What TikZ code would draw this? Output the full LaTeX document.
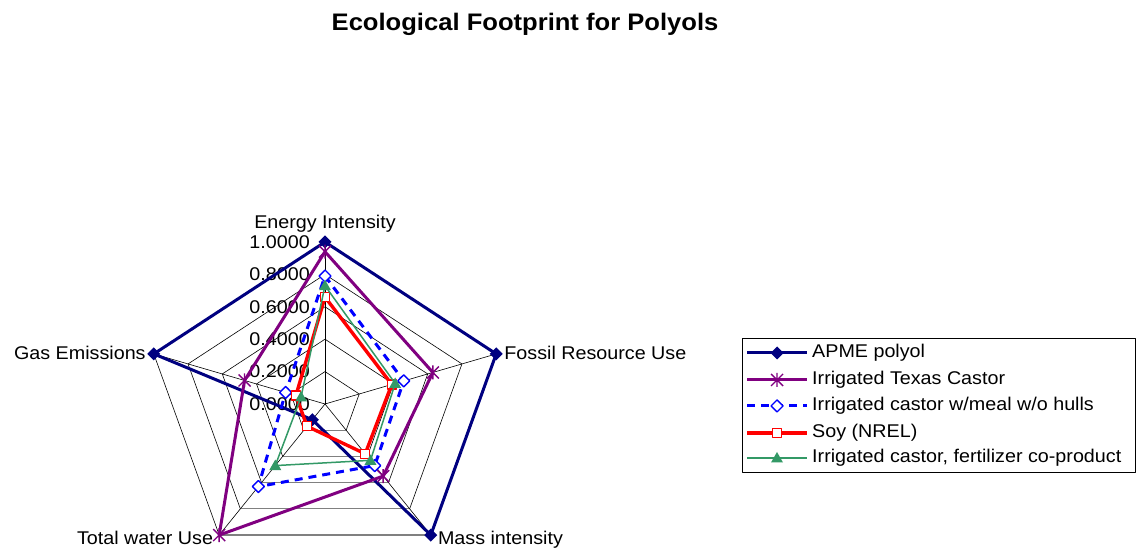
\documentclass[tikz,border=0pt]{standalone}
\usepackage{fontspec}
\setmainfont{Liberation Sans}[FakeStretch=1.07]
\definecolor{apmenavy}{HTML}{000080}
\definecolor{castorpurple}{HTML}{800080}
\definecolor{mealblue}{HTML}{0000FF}
\definecolor{soyred}{HTML}{FF0000}
\definecolor{fertgreen}{HTML}{339966}
\tikzset{
  grid line/.style={black, line width=0.6bp},
  grid base/.style={gray, line width=1.2bp},
  label text/.style={font=\fontsize{18.5}{20}\selectfont, inner sep=0pt},
  tick text/.style={label text, anchor=east, xshift=-15bp},
  apme line/.style={apmenavy, line width=3bp},
  castor line/.style={castorpurple, line width=3bp},
  meal line/.style={mealblue, line width=3bp, dash pattern=on 8bp off 6bp},
  soy line/.style={soyred, line width=3.4bp},
  fert line/.style={fertgreen, line width=1.5bp},
  pics/apme mark/.style={code={\fill[apmenavy] (0bp,6.5bp)--(6.5bp,0bp)--(0bp,-6.5bp)--(-6.5bp,0bp)--cycle;}},
  pics/castor mark/.style={code={\draw[castorpurple, line width=1.4bp] (-6bp,-6bp)--(6bp,6bp) (-6bp,6bp)--(6bp,-6bp) (0bp,-7bp)--(0bp,7bp);}},
  pics/meal mark/.style={code={\draw[mealblue, fill=white, line width=1.4bp] (0bp,6bp)--(6bp,0bp)--(0bp,-6bp)--(-6bp,0bp)--cycle;}},
  pics/soy mark/.style={code={\draw[soyred, fill=white, line width=1.4bp] (-4.5bp,-4.5bp) rectangle (4.5bp,4.5bp);}},
  pics/fert mark/.style={code={\fill[fertgreen] (0bp,6bp)--(6bp,-4.5bp)--(-6bp,-4.5bp)--cycle;}},
}
% one series: name, line style, mark, five values (energy, fossil, mass, water, gas)
\newcommand{\radarseries}[4]{
  \foreach \v [count=\k] in {#4} {
    \pgfmathsetmacro{\a}{162-72*\k}
    \coordinate (#1-\k) at (\a:\v);
  }
  \draw[#2] (#1-1) -- (#1-2) -- (#1-3) -- (#1-4) -- (#1-5) -- cycle;
  \foreach \k in {1,...,5} {\pic at (#1-\k) {#3};}
}
\begin{document}
\begin{tikzpicture}[x=1bp, y=1bp, line join=round]
  \useasboundingbox (0,0) rectangle (1136,548);
  \node[font=\bfseries\fontsize{24}{26}\selectfont, inner sep=0pt] (title) at (525,524) {Ecological Footprint for Polyols};
  % ============= CHART
  \begin{scope}[shift={(325,144)}, x=180bp, y=162bp]
    \foreach \r in {0.2,0.4,0.6,0.8,1} {
      \draw[grid line] (-54:\r) -- (18:\r) -- (90:\r) -- (162:\r) -- (-126:\r);
      \draw[grid base] (-126:\r) -- (-54:\r);
    }
    \foreach \a in {90,18,-54,-126,162} {\draw[grid line] (0,0) -- (\a:1);}
    \foreach \v/\t in {0/0.0000,0.2/0.2000,0.4/0.4000,0.6/0.6000,0.8/0.8000,1/1.0000} {
      \node[tick text] (tick-\t) at (90:\v) {\t};
    }
    \node[label text, anchor=base] (energy) at ([yshift=13bp]90:1) {Energy Intensity};
    \node[label text, anchor=base west] (fossil) at ([xshift=8bp, yshift=-6bp]18:1) {Fossil Resource Use};
    \node[label text, anchor=base west] (mass) at ([xshift=7bp, yshift=-9bp]-54:1) {Mass intensity};
    \node[label text, anchor=base east] (water) at ([xshift=-6bp, yshift=-9bp]-126:1) {Total water Use};
    \node[label text, anchor=base east] (gas) at ([xshift=-8bp, yshift=-6bp]162:1) {Gas Emissions};
    %---
    \radarseries{apme}{apme line}{apme mark}{1,1,1,0.12,1}
    \radarseries{castor}{castor line}{castor mark}{0.94,0.63,0.55,1,0.47}
    \radarseries{meal}{meal line}{meal mark}{0.79,0.46,0.47,0.63,0.23}
    \radarseries{soy}{soy line}{soy mark}{0.66,0.39,0.38,0.17,0.17}
    \radarseries{fert}{fert line}{fert mark}{0.73,0.41,0.43,0.47,0.14}
  \end{scope}
  % ============= LEGEND
  \draw[black, line width=0.8bp] (742,76) rectangle (1135,210);
  \foreach \s/\y/\t in {apme/195/APME polyol, castor/168/Irrigated Texas Castor,
      meal/142/{Irrigated castor w/meal w/o hulls}, soy/115/Soy (NREL),
      fert/90/{Irrigated castor, fertilizer co-product}} {
    \coordinate (key-\s-a) at (747,\y);
    \coordinate (key-\s-b) at (807,\y);
    \draw[\s\space line] (key-\s-a) -- (key-\s-b);
    \pic at (777,\y) {\s\space mark};
    \node[label text, anchor=west] (key-\s) at (812,\y) {\t};
  }
\end{tikzpicture}
\end{document}
